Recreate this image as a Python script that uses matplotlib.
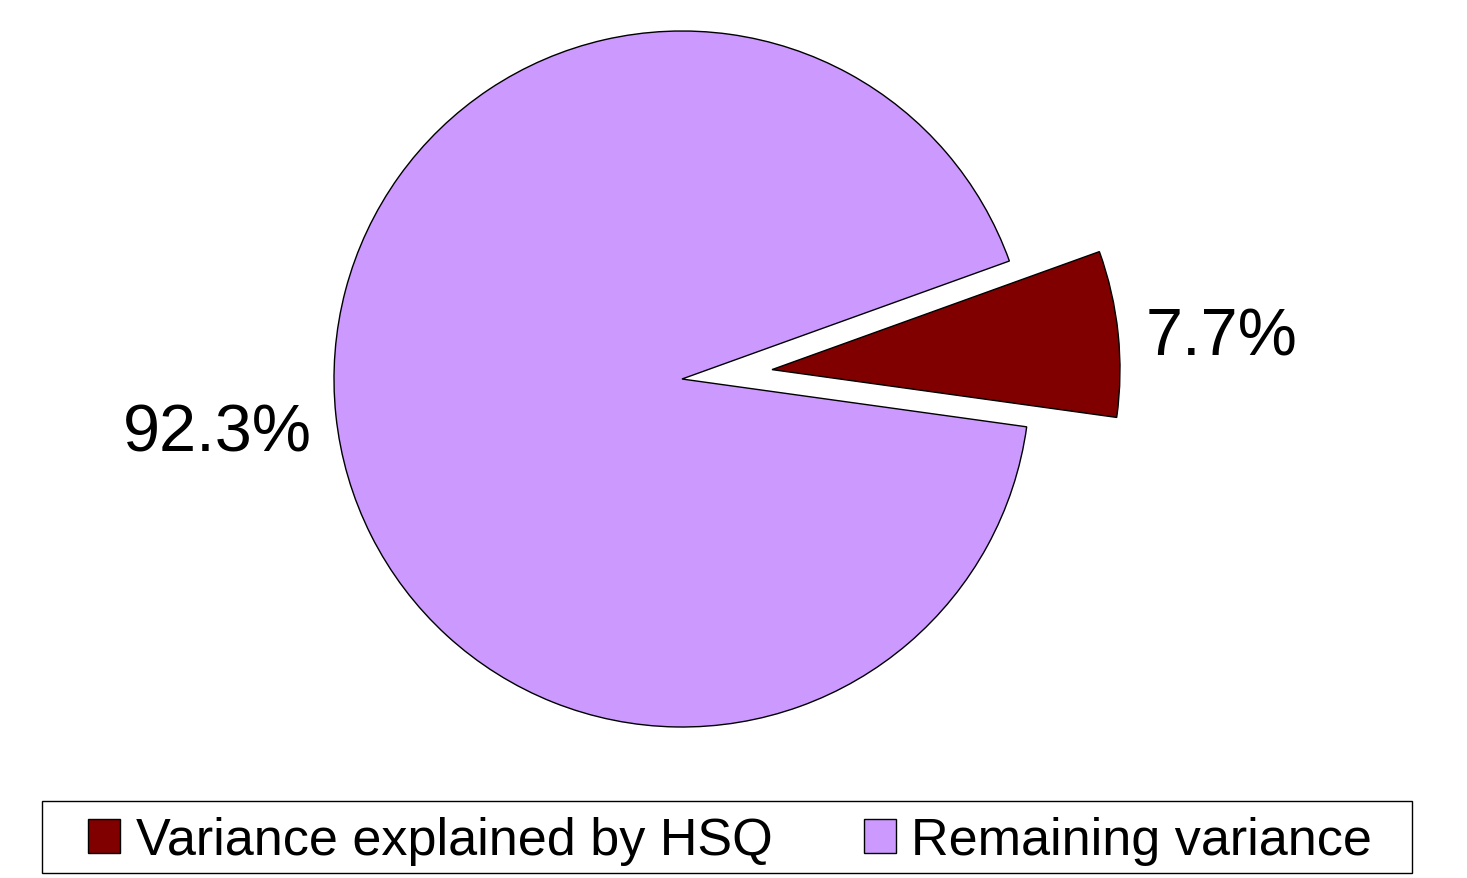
import matplotlib
matplotlib.use("Agg")
import matplotlib.pyplot as plt
from matplotlib.patches import Rectangle
from matplotlib import transforms

labels = ["Variance explained by HSQ", "Remaining variance"]
values = [7.7, 92.3]
colors = ["#800000", "#CC99FF"]

plt.rcParams['font.family'] = ['Liberation Sans', 'DejaVu Sans']

W, H = 1467, 879
fig = plt.figure(figsize=(W / 100, H / 100), dpi=100)
ax = fig.add_axes([0, 0, 1, 1])

# pie radius in pixels and centre position
r_px = 348
cx, cy = 682, H - 380

wedges, texts = ax.pie(values, colors=colors, startangle=-7.9,
                       explode=[0.26, 0],
                       labels=[f"{v}%" for v in values], labeldistance=1.08,
                       wedgeprops=dict(edgecolor="black", linewidth=1.0),
                       textprops=dict(fontsize=48))
for t in texts:
    t.set_va("center_baseline")
# the big slice label sits a bit lower in the original
texts[1].set_transform(transforms.offset_copy(texts[1].get_transform(), fig=fig, x=3, y=-6, units="points"))

ax.set_xlim(-cx / r_px, (W - cx) / r_px)
ax.set_ylim(-cy / r_px, (H - cy) / r_px)
ax.set_aspect("auto")
ax.axis("off")

# legend frame
fig.patches.append(Rectangle((42 / W, 5 / H), 1370 / W, 72 / H, transform=fig.transFigure,
                             facecolor="none", edgecolor="black", linewidth=1.0))

leg = fig.legend(wedges, labels, ncol=2, loc="center",
                 bbox_to_anchor=(730 / W, 37 / H),
                 fontsize=37.5, frameon=False,
                 handlelength=0.62, handleheight=0.62, handletextpad=0.3,
                 borderpad=0, borderaxespad=0, columnspacing=1.75)

fig.savefig("out.png", dpi=100)
